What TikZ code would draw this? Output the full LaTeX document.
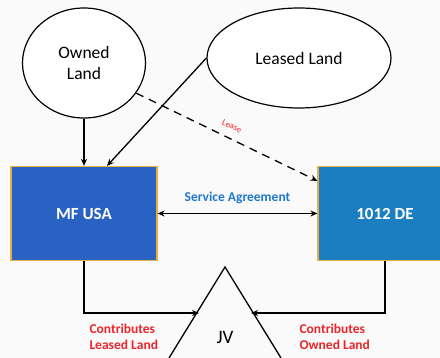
\documentclass[tikz,border=0pt]{standalone}
\usepackage{fontspec}
\setmainfont{Carlito}
\usepackage{tikz}
\usetikzlibrary{shapes.geometric,arrows.meta,positioning}

\definecolor{usablue}{HTML}{2A62C4}
\definecolor{deblue}{HTML}{1B7EC0}
\definecolor{boxrim}{HTML}{E6B040}
\definecolor{lblred}{HTML}{E8262B}
\definecolor{lblblue}{HTML}{1F78D0}

\tikzset{
  land/.style={draw,line width=1.2pt,ellipse,fill=white,align=center,font=\fontsize{17.5}{21}\selectfont},
  entity/.style={draw=boxrim,line width=1.2pt,minimum height=94pt,text=white,font=\fontsize{17}{20}\selectfont\bfseries},
  flow/.style={line width=1.3pt,-{Stealth[length=7pt,width=6pt]}},
  contrib/.style={align=left,anchor=north west,text=lblred,font=\fontsize{13.5}{16}\selectfont\bfseries}
}

\begin{document}
\begin{tikzpicture}[x=1pt,y=-1pt]
    \fill[black!2] (0,0) rectangle (440,358);
    \clip (0,0) rectangle (440,358);

    % land holdings
    \node[land,minimum width=123pt,minimum height=110pt] (owned) at (84,63) {Owned\\Land};
    \node[land,minimum width=184pt,minimum height=100pt] (leased) at (299,58) {Leased Land};

    % the two companies
    \node[entity,fill=usablue,minimum width=146pt] (mfusa) at (84,213.5) {MF USA};
    \node[entity,fill=deblue,minimum width=134pt] (de) at (385,213.5) {1012 DE};

    % joint venture
    \coordinate (jvtop) at (225,267);
    \draw[line width=1.3pt] (169,358) -- (jvtop) -- (281,358);
    \node[font=\fontsize{19}{22}\selectfont] (jv) at (225,337) {JV};
    \coordinate (jvl) at (199,313);
    \coordinate (jvr) at (251,313);

    \draw[flow] (owned.south) -- (mfusa.north);
    \draw[flow] (leased.west) -- ([xshift=23pt]mfusa.north);
    \draw[flow,dash pattern=on 8pt off 6pt] (owned.-30) -- ([yshift=-15pt]de.north west)
      node[pos=0.5,sloped,above=5pt,text=lblred,font=\fontsize{9}{10}\selectfont] {Lease};
    \draw[line width=1.3pt,{Stealth[length=7pt,width=6pt]}-{Stealth[length=7pt,width=6pt]}] (mfusa.east) -- (de.west)
      node[midway,above=6pt,text=lblblue,font=\fontsize{13.5}{16}\selectfont\bfseries] {Service Agreement};

    \draw[flow] (mfusa.south) |- (jvl);
    \draw[flow] (de.south) |- (jvr);

    \node[contrib] (cleased) at (86,320) {Contributes\\Leased Land};
    \node[contrib] (cowned) at (296,320) {Contributes\\Owned Land};
  \end{tikzpicture}
\end{document}
